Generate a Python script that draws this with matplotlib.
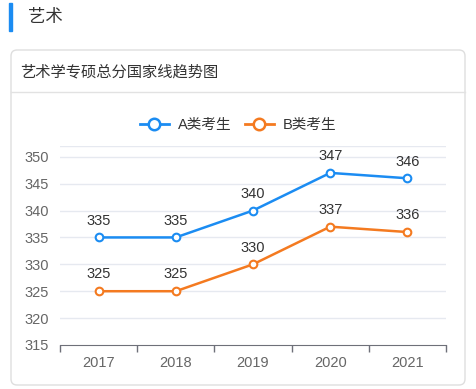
import matplotlib
matplotlib.use('Agg')
import matplotlib.pyplot as plt
from matplotlib.patches import FancyBboxPatch, Rectangle
from matplotlib.lines import Line2D

# 数字用 Liberation Sans，中文回退到 Noto Sans CJK
plt.rcParams['font.family'] = ['Liberation Sans', 'Noto Sans CJK SC', 'DejaVu Sans']

years = ['2017', '2018', '2019', '2020', '2021']
score_a = [335, 335, 340, 347, 346]
score_b = [325, 325, 330, 337, 336]
yticks = [315, 320, 325, 330, 335, 340, 345, 350]

blue = '#1b8cf2'
orange = '#f47a20'
W, H = 476, 389

fig = plt.figure(figsize=(W / 100, H / 100), dpi=100)

# 页面装饰：标题块和卡片
deco = fig.add_axes([0, 0, 1, 1])
deco.set_xlim(0, W)
deco.set_ylim(H, 0)
deco.axis('off')
deco.add_patch(Rectangle((9, 3), 3, 28, color=blue))
deco.text(28, 17, '艺术', fontsize=12.5, color='#333333', va='center',
          family='Noto Sans CJK SC')
deco.add_patch(FancyBboxPatch((11, 50), 454, 335, boxstyle='round,pad=0,rounding_size=6',
                              fc='white', ec='#dedede', lw=1))
deco.add_line(Line2D([11, 465], [92, 92], color='#e2e2e2', lw=1))
deco.text(20, 72, '艺术学专硕总分国家线趋势图', fontsize=11, color='#333333', va='center',
          family='Noto Sans CJK SC')

ax = fig.add_axes([60 / W, 1 - 345 / H, 386 / W, 199 / H])
x = list(range(len(years)))
ax.plot(x, score_a, color=blue, lw=1.8, marker='o', ms=5.5, mfc='white', mec=blue, mew=1.5,
        label='A类考生', zorder=3)
ax.plot(x, score_b, color=orange, lw=1.8, marker='o', ms=5.5, mfc='white', mec=orange, mew=1.5,
        label='B类考生', zorder=3)
for xi, a, b in zip(x, score_a, score_b):
    ax.annotate(str(a), (xi, a), xytext=(0, 7), textcoords='offset points',
                ha='center', va='bottom', fontsize=10.5, color='#333333')
    ax.annotate(str(b), (xi, b), xytext=(0, 7), textcoords='offset points',
                ha='center', va='bottom', fontsize=10.5, color='#333333')

ax.set_xlim(-0.5, len(years) - 0.5)
ax.set_ylim(315, 352)
ax.set_yticks(yticks)
ax.set_yticklabels([str(v) for v in yticks], fontsize=10.5, color='#666666')
for v in yticks[1:] + [352]:
    ax.axhline(v, color='#e6e9f0', lw=1, zorder=1)
ax.set_xticks(x)
ax.set_xticklabels(years, fontsize=10.5, color='#666666')
ax.set_xticks([i - 0.5 for i in range(len(years) + 1)], minor=True)
ax.tick_params(axis='x', which='major', length=0, pad=8)
ax.tick_params(axis='x', which='minor', length=5, color='#6e7079', width=1)
ax.tick_params(axis='y', length=0, pad=8)
for s in ['top', 'right', 'left']:
    ax.spines[s].set_visible(False)
ax.spines['bottom'].set_color('#6e7079')
ax.set_facecolor('none')

leg = fig.legend(loc='center', bbox_to_anchor=(0.5, 1 - 125 / H), ncol=2, frameon=False,
                 fontsize=10.5, handlelength=2.0, columnspacing=0.9, handletextpad=0.6,
                 labelcolor='#333333', markerscale=1.5)
for h in leg.legend_handles:
    h.set_linewidth(2)
    h.set_markeredgewidth(1.8)

fig.savefig('out.png', dpi=100)
